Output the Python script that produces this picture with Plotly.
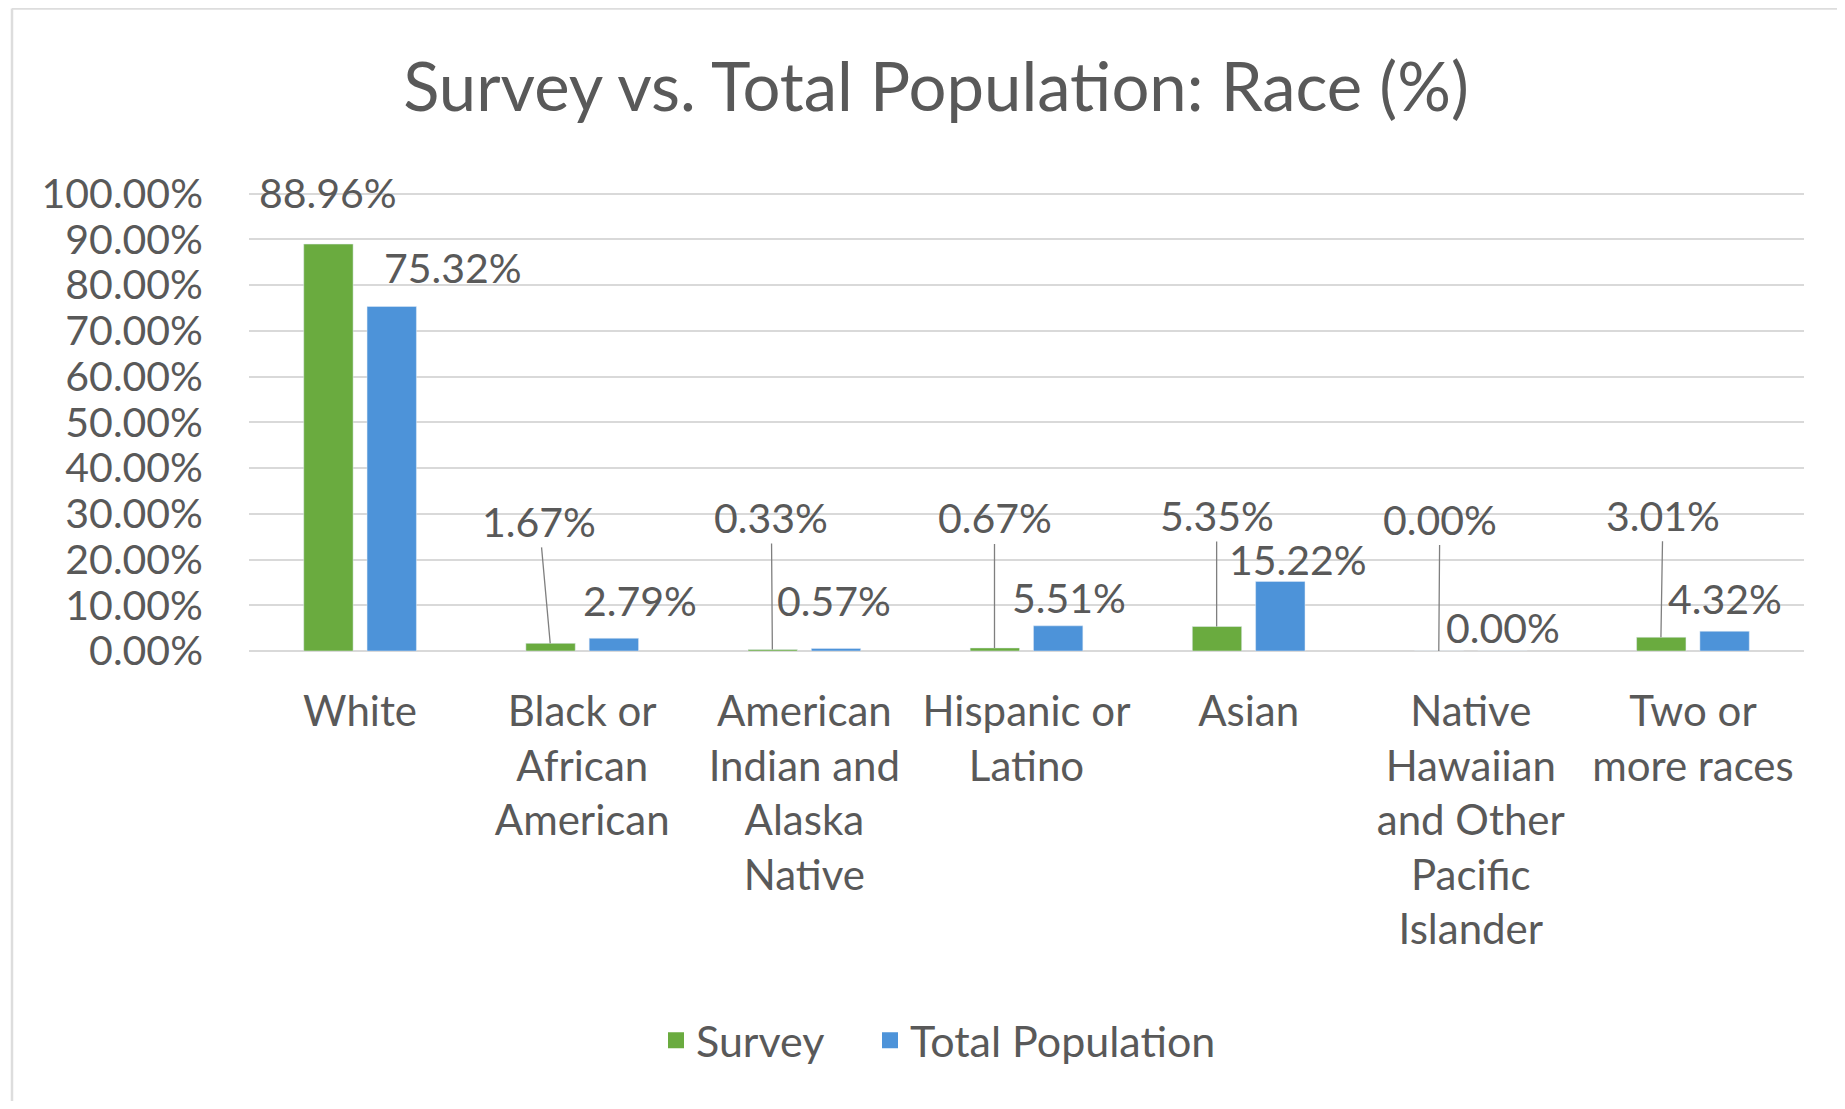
import plotly.graph_objects as go

# ---- data ----
categories = ["White", "Black or African American", "American Indian and Alaska Native",
              "Hispanic or Latino", "Asian", "Native Hawaiian and Other Pacific Islander",
              "Two or more races"]
tick_labels = ["White", "Black or<br>African<br>American", "American<br>Indian and<br>Alaska<br>Native",
               "Hispanic or<br>Latino", "Asian", "Native<br>Hawaiian<br>and Other<br>Pacific<br>Islander",
               "Two or<br>more races"]
survey = [88.96, 1.67, 0.33, 0.67, 5.35, 0.00, 3.01]
total_population = [75.32, 2.79, 0.57, 5.51, 15.22, 0.00, 4.32]
y_ticks = [0, 10, 20, 30, 40, 50, 60, 70, 80, 90, 100]

# ---- label placement (pixel offsets of label centre from bar top, leader line?) ----
survey_label_offsets = [(0, -52, False), (-11, -122, True), (-1, -132, True), (0, -130, True),
                        (0, -111, True), (1, -132, True), (2, -122, True)]
total_label_offsets = [(61, -39, False), (26, -38, False), (-2, -48, False), (10, -28, False),
                       (17, -22, False), (0, -24, False), (0, -33, False)]

GREEN = "#6AAB3F"
BLUE = "#4D93D9"
TEXT = "#595959"
GRID = "#D9D9D9"
BORDER = "#DDDDDD"
FONT = "Lato"
LBL = 41
BAR_SHIFT = 32

W, H = 1829, 1093
Y_MAX = 101                     # small headroom so the 100% gridline is drawn
UNIT = 4.57                     # px per percentage point
L, PW = 241, 1555
BOTTOM = 643                    # y of the 0% line
PH = Y_MAX * UNIT
T = BOTTOM - PH


def px(x):
    return (x - L) / PW


def py(y):
    return (BOTTOM - y) / PH


fig = go.Figure()
fig.add_trace(go.Bar(name="Survey", x=categories, y=survey, marker_color=GREEN, showlegend=False))
fig.add_trace(go.Bar(name="Total Population", x=categories, y=total_population, marker_color=BLUE,
                     showlegend=False))
# legend entries (square swatches), one legend box per entry for Excel-like spacing
for name, col, lg in (("Survey", GREEN, "legend"), ("Total Population", BLUE, "legend2")):
    fig.add_trace(go.Scatter(x=[None], y=[None], mode="markers", name=name, legend=lg,
                             marker=dict(symbol="square", size=22, color=col), showlegend=True))

annotations = []
for series, offsets, shift in ((survey, survey_label_offsets, -BAR_SHIFT),
                               (total_population, total_label_offsets, BAR_SHIFT)):
    for cat, val, (ax, ay, leader) in zip(categories, series, offsets):
        annotations.append(dict(
            x=cat, y=val, xref="x", yref="y", xshift=shift,
            text=f"{val:.2f}%", showarrow=True, ax=ax, ay=ay, axref="pixel", ayref="pixel",
            arrowhead=0, arrowwidth=1.3, standoff=0, startstandoff=0,
            arrowcolor="#7F7F7F" if leader else "rgba(0,0,0,0)",
            font=dict(family=FONT, size=LBL, color=TEXT),
        ))

legend_style = dict(orientation="h", xanchor="left", yanchor="middle", y=py(1032),
                    font=dict(family=FONT, size=43, color=TEXT), itemwidth=30,
                    bgcolor="rgba(0,0,0,0)")

fig.update_layout(
    width=W, height=H,
    margin=dict(l=L, r=W - L - PW, t=T, b=H - BOTTOM, autoexpand=False),
    paper_bgcolor="white", plot_bgcolor="white",
    barmode="group", bargap=0.43, bargroupgap=0.22,
    font=dict(family=FONT, size=LBL, color=TEXT),
    title=dict(text="Survey vs. Total Population: Race (%)", x=928 / W, xanchor="center",
               y=1 - 80 / H, yanchor="middle", font=dict(family=FONT, size=67, color=TEXT)),
    showlegend=True,
    legend=dict(x=px(648), **legend_style),
    legend2=dict(x=px(862), **legend_style),
    annotations=annotations,
    shapes=[
        dict(type="line", xref="paper", yref="paper", x0=px(4), x1=px(W + 20),
             y0=py(1), y1=py(1), line=dict(color=BORDER, width=2.5)),
        dict(type="line", xref="paper", yref="paper", x0=px(4), x1=px(4),
             y0=py(1), y1=py(H + 20), line=dict(color=BORDER, width=2.5)),
    ],
)
fig.update_xaxes(tickmode="array", tickvals=categories, ticktext=tick_labels,
                 showgrid=False, showline=False, ticks="", ticklabelstandoff=32,
                 tickfont=dict(family=FONT, size=42, color=TEXT))
fig.update_yaxes(range=[0, Y_MAX], tickmode="array", tickvals=y_ticks,
                 ticktext=[f"{v:.2f}%" for v in y_ticks],
                 showgrid=True, gridcolor=GRID, gridwidth=2, zeroline=True, zerolinecolor=GRID,
                 zerolinewidth=2, showline=False, ticks="", ticklabelstandoff=45,
                 tickfont=dict(family=FONT, size=LBL, color=TEXT))

fig.write_html("out.html")
